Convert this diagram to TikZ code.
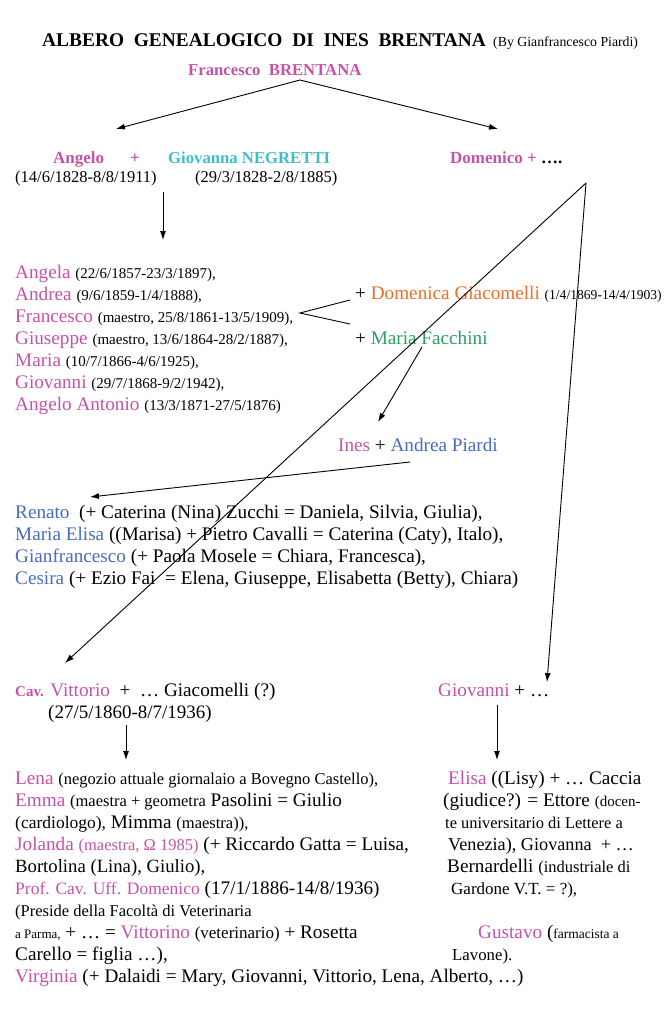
\documentclass[tikz,border=0pt]{standalone}
\usepackage{fontspec}
\setmainfont{Liberation Serif}
\usepackage{xcolor}
\usetikzlibrary{positioning, arrows.meta}

\definecolor{rosa}{RGB}{198,82,168}
\definecolor{turchese}{RGB}{62,190,200}
\definecolor{arancio}{RGB}{242,108,38}
\definecolor{verde}{RGB}{44,158,98}
\definecolor{blu}{RGB}{72,106,192}

\newcommand{\fs}[1]{\fontsize{#1}{#1}\selectfont}
\newcommand{\nome}[1]{\textcolor{rosa}{#1}}

\tikzset{
  riga/.style={anchor=base west, inner sep=0pt, font=\fs{19.2}},
  freccia/.style={-{Latex[length=9pt,width=6pt]}, line width=0.9pt},
  linea/.style={line width=0.9pt}
}

\begin{document}
\begin{tikzpicture}[x=1pt, y=-1pt]
    \useasboundingbox (0,0) rectangle (670,1014);
    % titolo
    \node[riga, font=\fs{19.4}\bfseries] (titolo) at (42,47)
        {ALBERO\ \ GENEALOGICO\ \ DI\ \ INES\ \ BRENTANA};
    \node[riga, font=\fs{13.8}] (autore) at (493,47) {(By Gianfrancesco Piardi)};
    % capostipite
    \node[riga, font=\fs{16.7}\bfseries] (francesco) at (188,76) {\nome{Francesco\ \ BRENTANA}};
    % prima generazione
    \node[riga, font=\fs{17}\bfseries] (angelo) at (53,164) {\nome{Angelo}};
    \node[riga, font=\fs{17}\bfseries] (piu) at (130,164) {\nome{+}};
    \node[riga, font=\fs{16.7}\bfseries] (giovanna) at (168,164) {\textcolor{turchese}{Giovanna NEGRETTI}};
    \node[riga, font=\fs{16.5}] (angelo date) at (15,182) {(14/6/1828-8/8/1911)};
    \node[riga, font=\fs{16.5}] (giovanna date) at (195,182) {(29/3/1828-2/8/1885)};
    \node[riga, font=\fs{17}\bfseries] (domenico) at (450,164) {\nome{Domenico +} ….};
    % figli di Angelo
    \node[riga] (angela) at (15,278) {\nome{Angela} {\fs{15}(22/6/1857-23/3/1897),}};
    \node[riga] (andrea) at (15,300) {\nome{Andrea} {\fs{15}(9/6/1859-1/4/1888),}};
    \node[riga] (francesco2) at (15,322) {\nome{Francesco} {\fs{15}(maestro, 25/8/1861-13/5/1909),}};
    \node[riga] (giuseppe) at (15,344) {\nome{Giuseppe} {\fs{15}(maestro, 13/6/1864-28/2/1887),}};
    \node[riga] (maria) at (15,366) {\nome{Maria} {\fs{15}(10/7/1866-4/6/1925),}};
    \node[riga] (giovanni1) at (15,388) {\nome{Giovanni} {\fs{15}(29/7/1868-9/2/1942),}};
    \node[riga] (angelo2) at (15,410) {\nome{Angelo Antonio} {\fs{15}(13/3/1871-27/5/1876)}};
    % mogli di Francesco
    \node[riga] (domenica) at (355,299)
        {+ \textcolor{arancio}{Domenica Giacomelli} {\fs{13.6}(1/4/1869-14/4/1903)}};
    \node[riga] (facchini) at (355,344) {+ \textcolor{verde}{Maria Facchini}};
    % Ines e figli
    \node[riga] (ines) at (338,451) {\nome{Ines} + \textcolor{blu}{Andrea Piardi}};
    \node[riga] (renato) at (15,518)
        {\textcolor{blu}{Renato}\ \ (+ Caterina (Nina) Zucchi = Daniela, Silvia, Giulia),};
    \node[riga] (marisa) at (15,540)
        {\textcolor{blu}{Maria Elisa} ((Marisa) + Pietro Cavalli = Caterina (Caty), Italo),};
    \node[riga] (gianfrancesco) at (15,562)
        {\textcolor{blu}{Gianfrancesco} (+ Paola Mosele = Chiara, Francesca),};
    \node[riga] (cesira) at (15,584)
        {\textcolor{blu}{Cesira} (+ Ezio Fai\ \ = Elena, Giuseppe, Elisabetta (Betty), Chiara)};
    % figli di Domenico
    \node[riga] (vittorio) at (15,696)
        {{\fs{15}\bfseries\nome{Cav.}} \nome{Vittorio}\ \ +\ \ … Giacomelli (?)};
    \node[riga, font=\fs{19}] (vittorio date) at (48,718) {(27/5/1860-8/7/1936)};
    \node[riga] (giovanni2) at (438,696) {\nome{Giovanni} + …};
    % figli di Vittorio
    \node[riga] (lena) at (15,784) {\nome{Lena} {\fs{16.5}(negozio attuale giornalaio a Bovegno Castello),}};
    \node[riga] (emma) at (15,806) {\nome{Emma} {\fs{16.5}(maestra + geometra} Pasolini = Giulio};
    \node[riga] (emma b) at (15,828) {{\fs{17.5}(cardiologo),} Mimma {\fs{16.5}(maestra)),}};
    \node[riga] (jolanda) at (15,850)
        {\nome{Jolanda {\fs{16.5}(maestra, Ω 1985)}} (+ Riccardo Gatta = Luisa,};
    \node[riga, font=\fs{18.7}] (jolanda b) at (15,872) {Bortolina (Lina), Giulio),};
    \node[riga] (domenico2) at (15,894)
        {{\fs{17.5}\nome{Prof. Cav. Uff. Domenico}} (17/1/1886-14/8/1936)};
    \node[riga, font=\fs{16.5}] (domenico2 b) at (15,916) {(Preside della Facoltà di Veterinaria};
    \node[riga] (domenico2 c) at (15,938)
        {{\fs{13}a Parma,} + … = \nome{Vittorino} {\fs{17}(veterinario)} + Rosetta};
    \node[riga] (domenico2 d) at (15,960) {Carello = figlia …),};
    \node[riga] (virginia) at (15,982)
        {\nome{Virginia} (+ Dalaidi = Mary, Giovanni, Vittorio, Lena, Alberto, …)};
    % figli di Giovanni
    \node[riga] (elisa) at (448,784) {\nome{Elisa} ((Lisy) + … Caccia};
    \node[riga] (elisa b) at (443,806) {(giudice?) = Ettore {\fs{15}(docen-}};
    \node[riga, font=\fs{16.4}] (elisa c) at (445,828) {te universitario di Lettere a};
    \node[riga, font=\fs{18.2}] (giovanna2) at (448,850) {Venezia), Giovanna\ \ + …};
    \node[riga] (giovanna2 b) at (447,872) {Bernardelli {\fs{16.5}(industriale di}};
    \node[riga, font=\fs{17}] (giovanna2 c) at (451,894) {Gardone V.T. = ?),};
    \node[riga] (gustavo) at (478,938) {\nome{Gustavo} ({\fs{13.5}farmacista a}};
    \node[riga, font=\fs{16.8}] (gustavo b) at (452,960) {Lavone).};
    % punti delle frecce
    \coordinate (apice) at (300,80);
    \coordinate (a angelo) at (116,129);
    \coordinate (a domenico) at (498,129);
    \coordinate (da angelo) at (163,192);
    \coordinate (a figli) at (163,240);
    \coordinate (bivio) at (300,313);
    \coordinate (a domenica) at (350,300);
    \coordinate (a facchini) at (350,324);
    \coordinate (da domenico) at (586,183);
    \coordinate (a vittorio) at (65,663);
    \coordinate (a giovanni) at (547,682);
    \coordinate (da facchini) at (422,347);
    \coordinate (a ines) at (378,422);
    \coordinate (da ines) at (410,462);
    \coordinate (a renato) at (90,497);
    \coordinate (da vittorio) at (126,725);
    \coordinate (a lena) at (126,760);
    \coordinate (da giovanni) at (497,705);
    \coordinate (a elisa) at (497,760);
    % frecce
    \draw[freccia] (apice) -- (a angelo);
    \draw[freccia] (apice) -- (a domenico);
    \draw[freccia] (da angelo) -- (a figli);
    \draw[linea] (a domenica) -- (bivio) -- (a facchini);
    \draw[freccia] (da domenico) -- (a vittorio);
    \draw[freccia] (da domenico) -- (a giovanni);
    \draw[freccia] (da facchini) -- (a ines);
    \draw[freccia] (da ines) -- (a renato);
    \draw[freccia] (da vittorio) -- (a lena);
    \draw[freccia] (da giovanni) -- (a elisa);
\end{tikzpicture}
\end{document}
